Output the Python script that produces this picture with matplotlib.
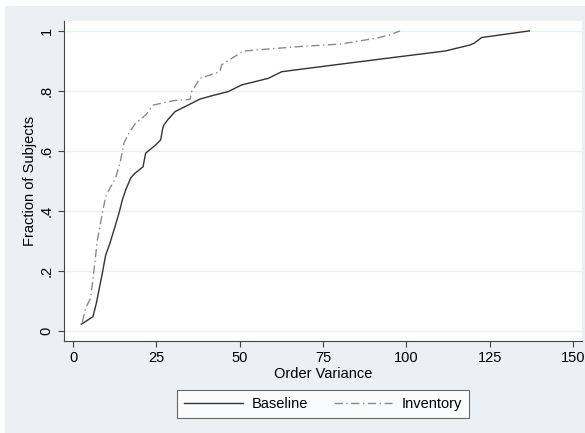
import matplotlib
matplotlib.use("Agg")
import matplotlib.pyplot as plt
from matplotlib.patches import Rectangle

plt.rcParams['font.family'] = ['Liberation Sans', 'DejaVu Sans']

# cumulative fraction of subjects vs order variance
baseline_x = [2.5, 6, 7, 7.8, 8.8, 9.8, 11, 12.3, 13.8, 14.8, 15.8, 17.3, 18.5, 21,
              21.8, 24.8, 26.3, 26.9, 27.3, 28.5, 30.6, 34, 38.1, 42, 46.6, 50.6,
              58.6, 62.6, 68.1, 80.1, 95, 111.6, 119.1, 120.5, 122.6, 136.9]
baseline_y = [0.023, 0.048, 0.093, 0.137, 0.193, 0.253, 0.29, 0.337, 0.393, 0.437,
              0.47, 0.51, 0.525, 0.547, 0.593, 0.62, 0.637, 0.675, 0.687, 0.705,
              0.731, 0.75, 0.773, 0.785, 0.798, 0.82, 0.842, 0.864, 0.872, 0.889,
              0.91, 0.933, 0.953, 0.96, 0.978, 1.0]

inventory_x = [2.8, 3.8, 5.3, 6.3, 7.3, 8.8, 9.8, 11.3, 12.8, 14.3, 15.3, 16.8, 18.8,
               21.8, 23.5, 24.1, 27.3, 30.3, 35.1, 35.6, 38.1, 44.1, 44.6, 51.1,
               68.1, 80.1, 91.1, 95.1, 98.1]
inventory_y = [0.03, 0.077, 0.11, 0.203, 0.303, 0.393, 0.448, 0.48, 0.51, 0.57, 0.627,
               0.66, 0.693, 0.72, 0.745, 0.753, 0.761, 0.768, 0.772, 0.798, 0.842,
               0.864, 0.887, 0.933, 0.948, 0.956, 0.976, 0.987, 1.0]

xticks = [0, 25, 50, 75, 100, 125, 150]
yticks = [0, 0.2, 0.4, 0.6, 0.8, 1.0]
ytick_labels = ['0', '.2', '.4', '.6', '.8', '1']

W, H = 585, 433
fig = plt.figure(figsize=(W / 100, H / 100), dpi=100, facecolor='white')
# stata-ish outer panel, behind the axes
fig.patches.append(Rectangle((5 / W, 0), 1 - 5 / W, 1 - 6 / H, transform=fig.transFigure,
                             facecolor='#eaf0f3', edgecolor='none', zorder=-5))

ax = fig.add_axes([64 / W, (H - 341) / H, (582 - 64) / W, (341 - 21) / H])
ax.set_facecolor('white')
ax.set_zorder(1)

ax.plot(baseline_x, baseline_y, color='#333333', lw=1.0, label='Baseline')
ax.plot(inventory_x, inventory_y, color='#8a8a8a', lw=1.0, ls=(0, (6, 2.5, 1, 2.5)),
        label='Inventory')

ax.set_xlim(-2.7, 152.7)
ax.set_ylim(-0.033, 1.033)
ax.set_xticks(xticks)
ax.set_yticks(yticks)
ax.set_yticklabels(ytick_labels, rotation=90, va='center')
ax.tick_params(direction='out', length=4.3, width=0.8, color='#444444', labelsize=10.5,
               labelcolor='black', pad=3)
ax.grid(axis='y', color='#eaf0f3', lw=1.0)
ax.set_axisbelow(True)

for s in ['top', 'right']:
    ax.spines[s].set_visible(False)
for s in ['left', 'bottom']:
    ax.spines[s].set_color('#444444')
    ax.spines[s].set_linewidth(0.8)

ax.set_xlabel('Order Variance', fontsize=10.5, labelpad=1)
ax.set_ylabel('Fraction of Subjects', fontsize=10.5)
ax.yaxis.set_label_coords((37 - 64) / (582 - 64), 0.5)

leg = fig.legend(loc='center', bbox_to_anchor=(323 / W, (H - 404) / H), ncol=2,
                 frameon=True, fancybox=False, fontsize=10.5, handlelength=4.0,
                 handletextpad=0.6, columnspacing=1.8, borderpad=0.5)
leg.get_frame().set_edgecolor('#444444')
leg.get_frame().set_linewidth(0.8)
leg.get_frame().set_facecolor('white')

fig.savefig('out.png', dpi=100, facecolor=fig.get_facecolor())
